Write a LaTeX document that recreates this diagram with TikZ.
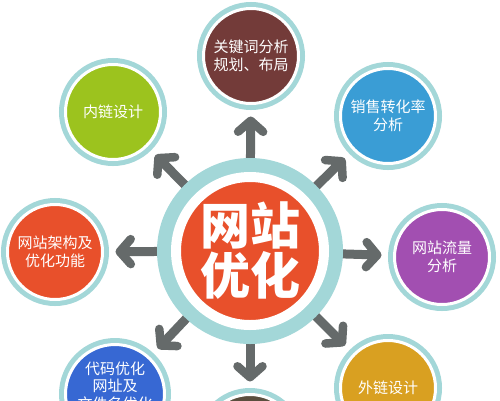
\documentclass[tikz,border=0pt]{standalone}
\usepackage{fontspec}
\newfontfamily\cjk{Noto Sans CJK SC}
\usetikzlibrary{arrows.meta,backgrounds}
\definecolor{ringteal}{HTML}{A3D7D8}
\definecolor{arrowgray}{HTML}{656A6A}
\definecolor{cred}{HTML}{E8502B}
\definecolor{cbrown}{HTML}{733B39}
\definecolor{cblue}{HTML}{3A9DD5}
\definecolor{cpurple}{HTML}{A24FB1}
\definecolor{cgreen}{HTML}{9CC31E}
\definecolor{cdblue}{HTML}{3768D3}
\definecolor{cgold}{HTML}{D9A021}
\definecolor{cdark}{HTML}{5A4E3E}
\tikzset{
  sat/.style={circle, inner sep=0pt, outer sep=0pt, minimum size=95pt,
    fill=#1, draw=white, line width=3pt,
    preaction={draw=ringteal, line width=13pt},
    text=white, align=center, font=\cjk\fontsize{15}{17.5}\selectfont},
  hub/.style={circle, inner sep=0pt, outer sep=0pt, minimum size=148pt,
    fill=cred, draw=white, line width=10pt,
    preaction={draw=ringteal, line width=38pt},
    text=white, align=center, font=\cjk\bfseries\fontsize{50}{50}\selectfont},
  arr/.style={draw=arrowgray, line width=9pt,
    -{Straight Barb[length=11pt,width=25pt,line width=8.5pt,round]},
    shorten >=13pt}
}
\begin{document}
\begin{tikzpicture}[x=1pt,y=-1pt]
\useasboundingbox (0,0) rectangle (500,400);
\clip (0,0) rectangle (500,400);
\node[hub] (c) at (250,251) {网站\\优化};
\node[sat=cbrown] (top) at (251,56) {关键词分析\\规划、布局};
\node[sat=cblue] (tr) at (388,116) {销售转化率\\分析};
\node[sat=cpurple] (r) at (442,257) {网站流量\\分析};
\node[sat=cgold] (br) at (388,388) {外链设计};
\node[sat=cdark] (b) at (250,442) {};
\node[sat=cdblue] (bl) at (115,394) {代码优化\\网址及\\文件名优化\\\mbox{}};
\node[sat=cred] (l) at (55,252) {网站架构及\\优化功能};
\node[sat=cgreen] (tl) at (113,112) {内链设计};
\begin{scope}[on background layer]
\fill[white] (0,0) rectangle (500,400);
\draw[arr] (c) -- (top);
\draw[arr] (c) -- (tr);
\draw[arr] (c) -- (r);
\draw[arr] (c) -- (br);
\draw[arr] (c) -- (b);
\draw[arr] (c) -- (bl);
\draw[arr] (c) -- (l);
\draw[arr] (c) -- (tl);
\end{scope}
\end{tikzpicture}
\end{document}
